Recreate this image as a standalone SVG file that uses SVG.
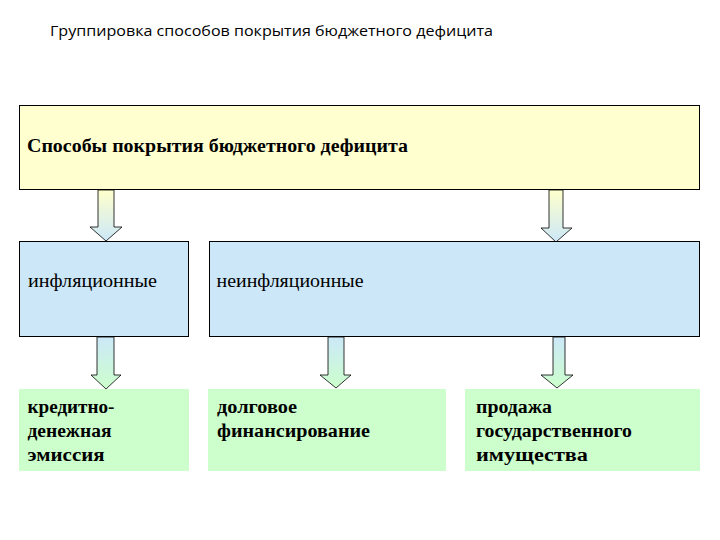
<svg xmlns="http://www.w3.org/2000/svg" width="720" height="540" viewBox="0 0 720 540">
<defs>
<linearGradient id="g1" x1="0" y1="0" x2="0" y2="1">
<stop offset="0" stop-color="#ffffcc"/>
<stop offset="1" stop-color="#cce8f8"/>
</linearGradient>
<linearGradient id="g2" x1="0" y1="0" x2="0" y2="1">
<stop offset="0" stop-color="#cce8f8"/>
<stop offset="1" stop-color="#ccffcc"/>
</linearGradient>
<style>
.title{font-family:"Open Sans","Liberation Sans",sans-serif;font-size:15px;fill:#000}
.t{font-family:"Liberation Serif","Times New Roman",serif;font-size:18px;fill:#000}
.b{font-weight:bold}
.yel{fill:#ffffd0;stroke:#000;stroke-width:1}
.blu{fill:#cce8f8;stroke:#000;stroke-width:1}
.grn{fill:#ccffcc;stroke:none}
.arr1{fill:url(#g1);stroke:#000;stroke-width:0.8}
.arr2{fill:url(#g2);stroke:#000;stroke-width:0.8}
</style>
</defs>
<rect width="720" height="540" fill="#fff"/>
<text class="title" x="50" y="36" textLength="443" lengthAdjust="spacingAndGlyphs">Группировка способов покрытия бюджетного дефицита</text>
<g id="connectors">
<polygon class="arr1" points="98,190 114,190 114,227 122,227 106,241 90,227 98,227"/>
<polygon class="arr1" points="549,190 563,190 563,228 572,228 556,242 541,228 549,228"/>
<polygon class="arr2" points="97,337 114,337 114,375 121,375 106,389 91,375 97,375"/>
<polygon class="arr2" points="328,337 344,337 344,375 351,375 336,388 320,375 328,375"/>
<polygon class="arr2" points="553,337 565,337 565,375 573,375 557,388 541,375 553,375"/>
</g>
<g id="root">
<rect class="yel" x="19.5" y="105.5" width="680" height="84"/>
<text class="t b" x="27" y="152" textLength="381" lengthAdjust="spacingAndGlyphs">Способы покрытия бюджетного дефицита</text>
</g>
<g id="infl">
<rect class="blu" x="19.5" y="241.5" width="169" height="95"/>
<text class="t" x="28" y="287" textLength="129" lengthAdjust="spacingAndGlyphs">инфляционные</text>
</g>
<g id="noninfl">
<rect class="blu" x="209.5" y="241.5" width="490" height="95"/>
<text class="t" x="216.5" y="287" textLength="147" lengthAdjust="spacingAndGlyphs">неинфляционные</text>
</g>
<g id="emission">
<rect class="grn" x="19" y="389" width="170" height="82"/>
<text class="t b" x="27.5" y="413" textLength="87" lengthAdjust="spacingAndGlyphs">кредитно-</text>
<text class="t b" x="27.5" y="437" textLength="84" lengthAdjust="spacingAndGlyphs">денежная</text>
<text class="t b" x="27.5" y="461" textLength="77" lengthAdjust="spacingAndGlyphs">эмиссия</text>
</g>
<g id="debt">
<rect class="grn" x="208" y="389" width="238" height="82"/>
<text class="t b" x="217" y="413" textLength="80" lengthAdjust="spacingAndGlyphs">долговое</text>
<text class="t b" x="217" y="437" textLength="153" lengthAdjust="spacingAndGlyphs">финансирование</text>
</g>
<g id="sale">
<rect class="grn" x="465" y="389" width="235" height="82"/>
<text class="t b" x="476" y="413" textLength="76" lengthAdjust="spacingAndGlyphs">продажа</text>
<text class="t b" x="476" y="437" textLength="156" lengthAdjust="spacingAndGlyphs">государственного</text>
<text class="t b" x="476" y="461" textLength="112" lengthAdjust="spacingAndGlyphs">имущества</text>
</g>
</svg>
